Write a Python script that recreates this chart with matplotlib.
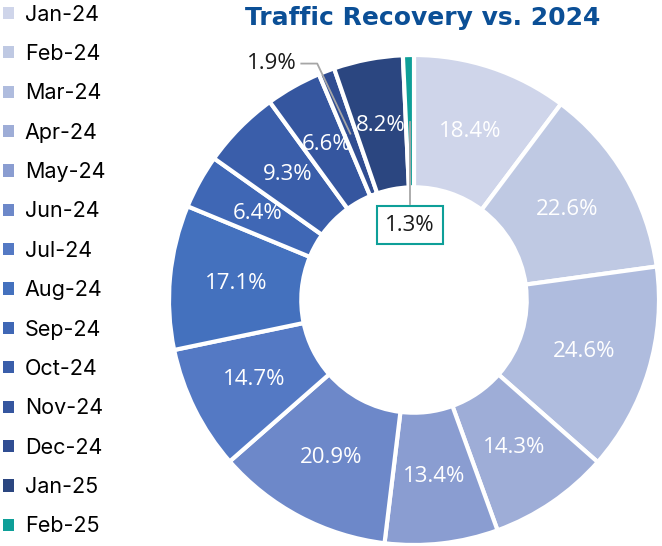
import matplotlib
matplotlib.use("Agg")
import matplotlib.pyplot as plt
from matplotlib.patches import Patch
import numpy as np

months = ["Jan-24", "Feb-24", "Mar-24", "Apr-24", "May-24", "Jun-24", "Jul-24",
          "Aug-24", "Sep-24", "Oct-24", "Nov-24", "Dec-24", "Jan-25", "Feb-25"]
values = [18.4, 22.6, 24.6, 14.3, 13.4, 20.9, 14.7, 17.1, 6.4, 9.3, 6.6, 1.9, 8.2, 1.3]
colors = ["#CFD5EA", "#BFC9E3", "#AFBCDE", "#9EADD7", "#8A9DD1", "#6D88C9", "#5479C4",
          "#4471BE", "#3F67B5", "#3A5EAA", "#35569F", "#304D92", "#2B4680", "#0E9F98"]

W, H = 662, 546
fig = plt.figure(figsize=(W / 100, H / 100), dpi=100)

# donut axes: centre (414, 300) px, radius 245 px
cx, cy, R = 414, 300, 245
ax = fig.add_axes([(cx - R) / W, (H - cy - R) / H, 2 * R / W, 2 * R / H])
wedges, _ = ax.pie(values, colors=colors, startangle=90, counterclock=False,
                   radius=1.0, wedgeprops=dict(width=0.54, edgecolor="white", linewidth=3))
ax.set_xlim(-1, 1)
ax.set_ylim(-1, 1)
ax.set_aspect("auto")
ax.axis("off")

lab_font = ["Open Sans", "DejaVu Sans"]
total = sum(values)
rmid = 0.727
cum = 0
for w, v in zip(wedges, values):
    mid = 90 - (cum + v / 2) / total * 360
    cum += v
    a = np.deg2rad(mid)
    x, y = rmid * np.cos(a), rmid * np.sin(a)
    txt = f"{v:.1f}%"
    if v == 1.9:
        ax.plot([x, -0.395, -0.46], [y, 0.965, 0.965], color="#A6A6A6", lw=1.3)
        ax.text(-0.48, 0.965, txt, ha="right", va="center", fontsize=16,
                family=lab_font, color="#1a1a1a")
    elif v == 1.3:
        ax.plot([x, x], [y, 0.39], color="#A6A6A6", lw=1.3)
        ax.text(x, 0.305, txt, ha="center", va="center", fontsize=16,
                family=lab_font, color="#1a1a1a",
                bbox=dict(boxstyle="square,pad=0.38", fc="white", ec="#0E9F98", lw=1.5))
    else:
        ax.text(x, y, txt, ha="center", va="center", fontsize=16,
                family=lab_font, color="white")

fig.text(423 / W, 1 - 18 / H, "Traffic Recovery vs. 2024", ha="center", va="center",
         fontsize=18, fontweight="bold", family="DejaVu Sans", color="#0B4F96")

handles = [Patch(facecolor=c, edgecolor="none") for c in colors]
fig.legend(handles, months, loc="center left", bbox_to_anchor=(0.005, 1 - 270.5 / H),
           frameon=False, prop=dict(family="Inter", size=15.5),
           handlelength=0.5, handleheight=0.5, handletextpad=0.5,
           labelspacing=0.9, borderaxespad=0, borderpad=0)

fig.savefig("out.png", dpi=100)
